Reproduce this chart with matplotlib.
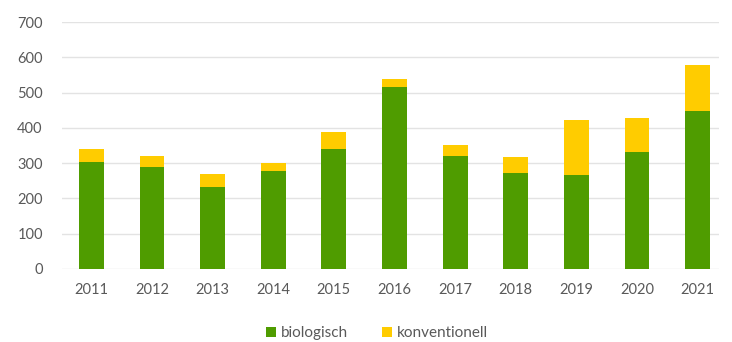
import matplotlib.pyplot as plt
import numpy as np

# values
years = ["2011", "2012", "2013", "2014", "2015", "2016", "2017", "2018", "2019", "2020", "2021"]
biologisch = [302, 288, 233, 277, 340, 516, 321, 273, 265, 331, 448]
konventionell = [38, 32, 37, 22, 49, 23, 30, 43, 157, 98, 132]

green = "#4f9c00"
yellow = "#ffcc00"
grey_text = "#595959"

plt.rcParams["font.family"] = ["Lato", "DejaVu Sans"]

fig = plt.figure(figsize=(7.32, 3.42), dpi=100)
ax = fig.add_axes([0.085, 0.214, 0.897, 0.721])

x = np.arange(len(years))
ax.bar(x, biologisch, width=0.41, color=green, label="biologisch", zorder=3)
ax.bar(x, konventionell, width=0.41, bottom=biologisch, color=yellow, label="konventionell", zorder=3)

ax.set_ylim(0, 700)
ax.set_xlim(-0.48, 10.35)
ax.set_yticks(range(0, 701, 100))
ax.set_xticks(x)
ax.set_xticklabels(years)
ax.grid(axis="y", color="#e3e3e3", linewidth=1, zorder=0)
ax.tick_params(axis="both", length=0, colors=grey_text, labelsize=10.5)
ax.tick_params(axis="x", pad=10)
ax.tick_params(axis="y", pad=14)
for s in ax.spines.values():
    s.set_visible(False)

fig.legend(loc="center", bbox_to_anchor=(0.515, 0.025), ncol=2, frameon=False,
           fontsize=11, handlelength=0.7, handleheight=0.7, columnspacing=2.2,
           handletextpad=0.3, labelcolor=grey_text)

fig.savefig("out.png", dpi=100)
